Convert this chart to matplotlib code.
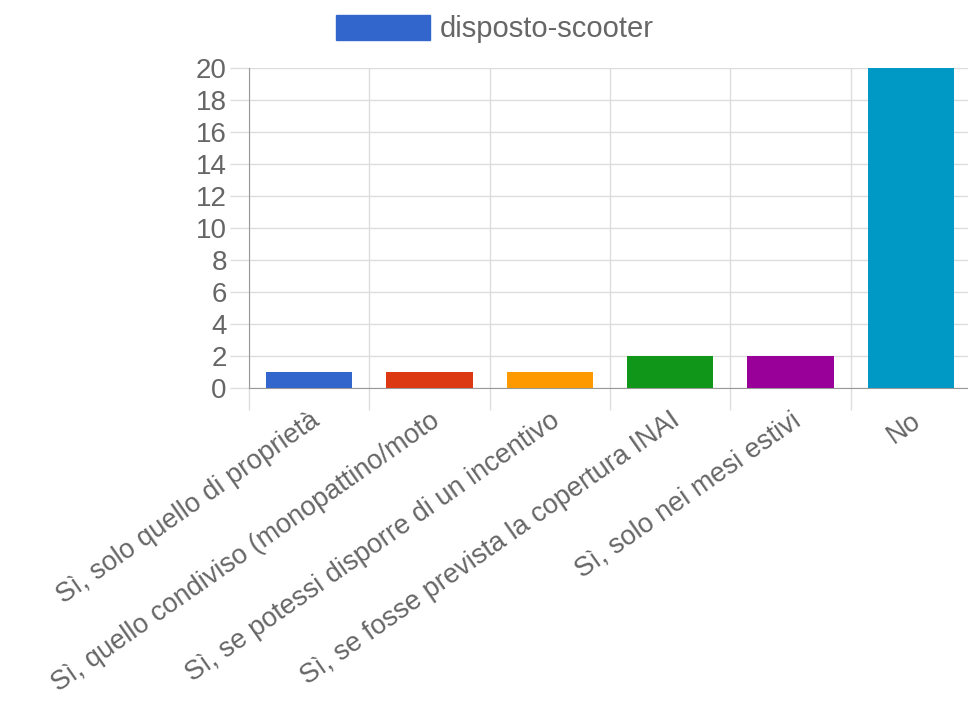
import matplotlib.pyplot as plt
import numpy as np

# Dati
categorie = [
    "Sì, solo quello di proprietà",
    "Sì, quello condiviso (monopattino/moto",
    "Sì, se potessi disporre di un incentivo",
    "Sì, se fosse prevista la copertura INAI",
    "Sì, solo nei mesi estivi",
    "No",
]
valori = [1, 1, 1, 2, 2, 20]
colori = ["#3366cc", "#dc3912", "#ff9900", "#109618", "#990099", "#0099c6"]
serie = "disposto-scooter"

plt.rcParams['font.family'] = ['Liberation Sans', 'DejaVu Sans']
grigio = "#666666"
griglia = "#dddddd"

fig = plt.figure(figsize=(9.68, 7.09), dpi=100)
ax = fig.add_axes([249 / 968, 321 / 709, 722 / 968, 320 / 709])

x = np.arange(len(categorie))
ax.bar(x, valori, width=0.72, color=colori, zorder=3)

ax.set_xlim(-0.5, len(categorie) - 0.5)
ax.set_ylim(0, 20)
ax.set_yticks(range(0, 21, 2))
ax.tick_params(axis='y', labelsize=20, colors=griglia, labelcolor=grigio,
               length=14, width=1, pad=2)

# etichette al centro, griglia ai bordi delle categorie
ax.set_xticks(x)
ax.set_xticklabels(categorie, rotation=35, ha='right', rotation_mode='anchor',
                   fontsize=19.5, color=grigio)
ax.tick_params(axis='x', which='major', length=0, pad=14)
ax.set_xticks(np.arange(-0.5, len(categorie)), minor=True)
ax.tick_params(axis='x', which='minor', length=16, colors=griglia, width=1)

ax.grid(axis='y', color=griglia, linewidth=1, zorder=0)
ax.grid(axis='x', which='minor', color=griglia, linewidth=1, zorder=0)

for s in ['top', 'right']:
    ax.spines[s].set_visible(False)
ax.spines['left'].set_color('#999999')
ax.spines['bottom'].set_color('#999999')

h = plt.Rectangle((0, 0), 1, 1, color=colori[0])
fig.legend([h], [serie], loc='center left', bbox_to_anchor=(336 / 968, 1 - 29 / 709),
           frameon=False, fontsize=21, labelcolor=grigio, borderpad=0, borderaxespad=0,
           handlelength=3.22, handleheight=0.96, handletextpad=0.34)

fig.savefig("out.png", dpi=100)
